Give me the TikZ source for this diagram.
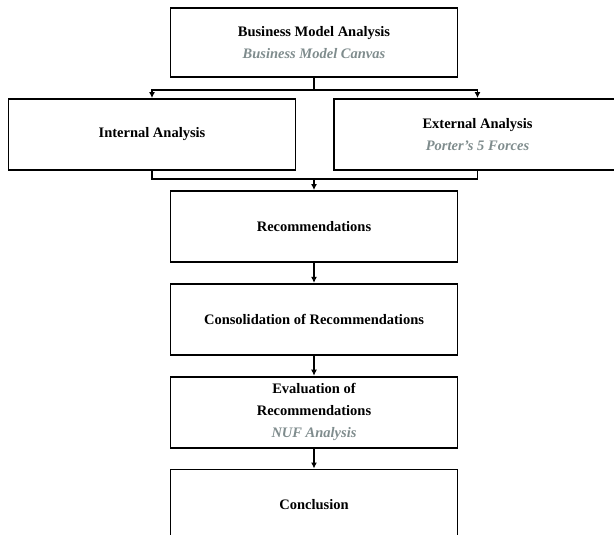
\documentclass[tikz,border=0pt]{standalone}
\usepackage{fontspec}
\setmainfont{Liberation Serif}
\usetikzlibrary{positioning,calc,arrows.meta}
\definecolor{toolgray}{RGB}{127,140,141}
\newcommand{\toolname}[1]{\textcolor{toolgray}{\itshape #1}}
\tikzset{
% Box style for the stages and the line style for the links
stage box/.style={rectangle,draw,line width=1.8pt,minimum width=287pt,minimum height=71pt,
  align=center,font=\bfseries\fontsize{14.5}{22}\selectfont},
link/.style={line width=1.6pt},
link arrow/.style={line width=1.6pt,-{Latex[length=6pt,width=6pt]}}
}

\begin{document}
\begin{tikzpicture}[x=1pt,y=1pt]
  \useasboundingbox (0,0) rectangle (614,-535);
  \node[stage box, minimum height=69pt] (bma) at (314,-42.5)
    {Business Model Analysis\\ \toolname{Business Model Canvas}};
  \node[stage box] (internal) at (152,-134.5) {Internal Analysis};
  \node[stage box] (external) at (477.5,-134.5)
    {External Analysis\\ \toolname{Porter's 5 Forces}};
  \node[stage box] (rec) at (314,-226.5) {Recommendations};
  \node[stage box, below=20pt of rec] (consol) {Consolidation of Recommendations};
  \node[stage box, below=20pt of consol] (eval)
    {Evaluation of\\Recommendations\\ \toolname{NUF Analysis}};
  \node[stage box, below=20pt of eval] (concl) {Conclusion};

  % split after the business model
  \coordinate (split) at ($(bma.south)+(0,-12)$);
  \draw[link] (bma.south) -- (split);
  \draw[link arrow] (split) -| (internal.north);
  \draw[link arrow] (split) -| (external.north);

  % merge into the recommendations
  \coordinate (merge) at ($(rec.north)+(0,11)$);
  \draw[link] (internal.south) |- (merge) -| (external.south);
  \draw[link arrow] (merge) -- (rec.north);

  \draw[link arrow] (rec) -- (consol);
  \draw[link arrow] (consol) -- (eval);
  \draw[link arrow] (eval) -- (concl);
\end{tikzpicture}
\end{document}
